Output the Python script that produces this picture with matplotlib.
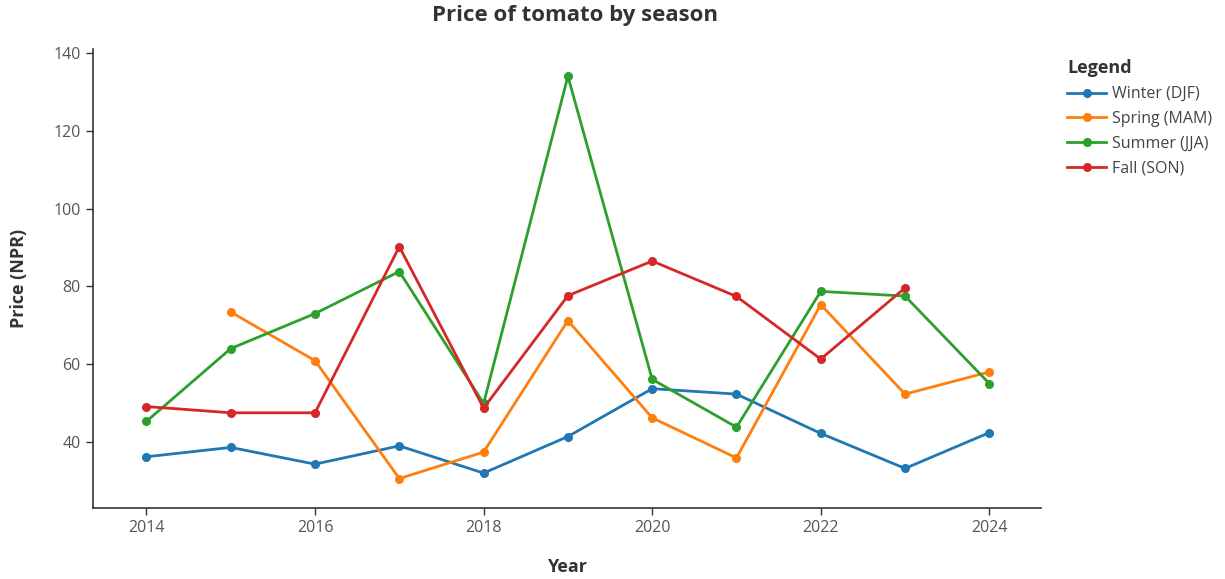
import matplotlib
matplotlib.use("Agg")
import matplotlib.pyplot as plt
import numpy

plt.rcParams["font.family"] = ["Open Sans", "DejaVu Sans"]

years = [2014, 2015, 2016, 2017, 2018, 2019, 2020, 2021, 2022, 2023, 2024]
winter = [36.2, 38.6, 34.3, 39.0, 32.0, 41.4, 53.7, 52.3, 42.2, 33.2, 42.4]
spring = [None, 73.4, 60.9, 30.6, 37.4, 71.2, 46.2, 35.9, 75.3, 52.3, 58.0]
summer = [45.3, 64.0, 73.0, 83.8, 49.9, 134.0, 56.1, 43.8, 78.7, 77.5, 55.0]
fall = [49.1, 47.5, 47.5, 90.2, 48.7, 77.6, 86.5, 77.4, 61.3, 79.6, None]

series_names = ["Winter (DJF)", "Spring (MAM)", "Summer (JJA)", "Fall (SON)"]
series_values = [winter, spring, summer, fall]
series_colours = ["#1f77b4", "#ff7f0e", "#2ca02c", "#d62728"]

x_ticks = [2014, 2016, 2018, 2020, 2022, 2024]
y_ticks = [40, 60, 80, 100, 120, 140]

fig = plt.figure(figsize=(12.25, 5.79), dpi=100)
axes = fig.add_axes([0.0762, 0.1231, 0.7734, 0.7923])

for name, values, colour in zip(series_names, series_values, series_colours):
    # missing seasons are left out of the line
    xs = []
    ys = []
    for year, value in zip(years, values):
        if value is not None:
            xs.append(year)
            ys.append(value)
    axes.plot(xs, ys, color=colour, linewidth=2, marker="o", markersize=5.5, label=name)

axes.set_xlim(2013.37, 2024.61)
axes.set_ylim(23.1, 141.0)
axes.set_xticks(x_ticks)
axes.set_yticks(y_ticks)

for side in ["top", "right"]:
    axes.spines[side].set_visible(False)
for side in ["left", "bottom"]:
    axes.spines[side].set_color("#333333")
    axes.spines[side].set_linewidth(1.2)
axes.tick_params(axis="both", direction="out", length=5, width=1, color="#333333",
                 labelcolor="#555555", labelsize=11.5, pad=4)

axes.set_xlabel("Year", fontsize=13, fontweight="bold", color="#333333", labelpad=16)
axes.set_ylabel("Price (NPR)", fontsize=13, fontweight="bold", color="#333333", labelpad=18)

fig.text(575 / 1225, 1 - 15 / 579, "Price of tomato by season", fontsize=16,
         fontweight="bold", color="#333333", ha="center", va="center")

legend = fig.legend(loc="upper left", bbox_to_anchor=(1053 / 1225, 1 - 45 / 579),
                    frameon=False, title="Legend", fontsize=11.5, handlelength=2.4,
                    handletextpad=0.4, labelspacing=0.55, labelcolor="#444444")
legend.get_title().set_fontweight("bold")
legend.get_title().set_fontsize(13)
legend.get_title().set_color("#333333")
legend._legend_box.align = "left"

fig.savefig("out.png", dpi=100, facecolor="white")
